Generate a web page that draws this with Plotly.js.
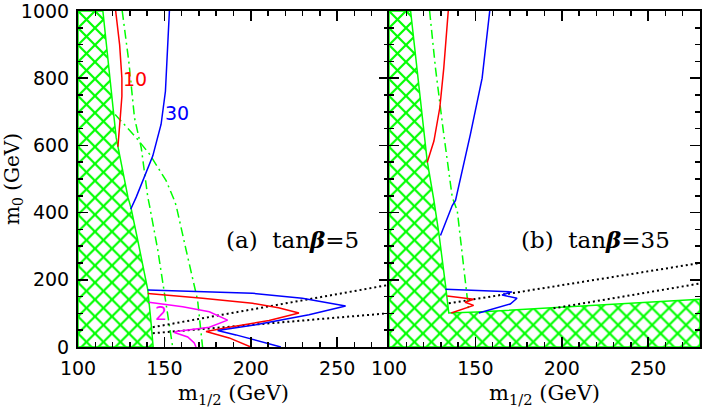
<!DOCTYPE html>
<html><head><meta charset="utf-8">
<script src="https://cdn.plot.ly/plotly-3.0.1.min.js"></script>
<style>html,body{margin:0;padding:0;background:#fff}</style>
</head><body><div id="chart" style="width:703px;height:415px"></div>
<script>
// ---------- Panel (a): tan beta = 5 ----------
const a_excl_x = [100, 100, 114.4, 122.1, 128.9, 130.8, 134.6, 138.5, 140.4, 142.3, 143.5, 100];
const a_excl_y = [0, 1000, 1000, 623, 446, 411, 317, 219, 170, 71, 0, 0];
const a_dd1_x = [125.6, 129.4, 132.7, 136.6, 140.4, 141.4, 146.2, 151.9, 154.8];
const a_dd1_y = [1000, 850, 682, 593, 446, 421, 288, 100, 0];
const a_dd2_x = [121.5, 133.7, 141.4, 151.0, 155.8, 156.8, 162.6, 169.2, 172.1];
const a_dd2_y = [692, 623, 574, 495, 436, 421, 288, 140, 0];
const a_red_hi_x = [121.8, 124.1, 125.4, 125.4, 124.6, 123.1];
const a_red_hi_y = [1000, 899, 800, 746, 692, 596];
const a_red_lo_x = [140.4, 172.1, 201.0, 216.0, 227.9, 210.6, 187.5, 174.1, 187.5, 200.0];
const a_red_lo_y = [159, 145, 130, 117, 101, 79, 59, 46, 27, 0];
const a_blue_hi_x = [152.9, 151.6, 150.6, 148.1, 143.3, 133.7, 130.5];
const a_blue_hi_y = [1000, 880, 761, 663, 569, 446, 410];
const a_blue_lo_x = [140.4, 201.0, 229.8, 254.9, 233.7, 202.9, 180.8, 191.4, 217.4];
const a_blue_lo_y = [170, 160, 145, 122, 96, 66, 49, 36, 0];
const a_mag_x = [141.0, 160.6, 176.0, 186.6, 176.0, 156.8, 155.8, 163.5, 167.3, 168.3];
const a_mag_y = [133, 120, 105, 80, 59, 46, 43, 30, 12, 0];
const a_dot1_x = [143.3, 280];
const a_dot1_y = [59, 185];
const a_dot2_x = [143.3, 280];
const a_dot2_y = [41, 100.6];

// ---------- Panel (b): tan beta = 35 ----------
const b_excl_x = [100, 100, 112.5, 122.1, 126.0, 128.9, 132.7, 134.6, 151.0, 280, 280, 100];
const b_excl_y = [0, 1000, 1000, 554, 436, 337, 184, 101, 104, 142, 0, 0];
const b_dd_x = [123.5, 126.9, 131.7, 136.6, 139.5, 145.3, 146.2];
const b_dd_y = [1000, 830, 633, 446, 406, 140, 105];
const b_red_hi_x = [134.3, 131.7, 129.4, 126.0, 122.1];
const b_red_hi_y = [1000, 830, 712, 613, 549];
const b_red_lo_x = [133.7, 149.0, 144.0, 149.0, 136.0];
const b_red_lo_y = [152, 142, 133, 124, 101];
const b_blue_hi_x = [158.3, 153.9, 147.1, 138.5, 136.6, 129.8];
const b_blue_hi_y = [1000, 800, 633, 436, 421, 332];
const b_blue_lo_x = [132.7, 171.2, 165.4, 174.1, 170.2, 152.0];
const b_blue_lo_y = [172, 164, 155, 145, 128, 101];
const b_dot1_x = [134.6, 280];
const b_dot1_y = [130, 250];
const b_dot2_x = [195.2, 280];
const b_dot2_y = [115, 189];

// ---------- Axes ticks / labels ----------
const xTickVals = [100, 150, 200, 250];
const yTickVals = [0, 200, 400, 600, 800, 1000];
const xTitle = 'm<sub>1/2</sub> (GeV)';
const yTitle = 'm<sub>0</sub> (GeV)';
const curveLabels = ['10', '30', '2'];
const panelLabels = ['(a)\u00a0 tan<b><i>β</i></b>=5', '(b)\u00a0 tan<b><i>β</i></b>=35'];

const GREEN = '#00ff00', RED = '#ff0000', BLUE = '#0000ff', MAG = '#ff00ff';
const DD = '9px,4px,2px,4px';

function ln(x, y, color, xa, ya, dash) {
  return {x: x, y: y, type: 'scatter', mode: 'lines', xaxis: xa, yaxis: ya,
    line: {color: color, width: dash === 'dotb' ? 2 : 1.5, dash: dash === 'dotb' ? '2px,3px' : (dash || 'solid')},
    hoverinfo: 'skip', showlegend: false};
}
function hatch(x, y, xa, ya) {
  return {x: x, y: y, type: 'scatter', mode: 'lines', fill: 'toself', xaxis: xa, yaxis: ya,
    fillcolor: 'rgba(0,0,0,0)',
    fillpattern: {shape: 'x', fgcolor: GREEN, bgcolor: 'white', size: 12, solidity: 0.33},
    line: {color: GREEN, width: 1.5}, hoverinfo: 'skip', showlegend: false};
}

const traces = [
  hatch(a_excl_x, a_excl_y, 'x', 'y'),
  ln(a_dd1_x, a_dd1_y, GREEN, 'x', 'y', DD),
  ln(a_dd2_x, a_dd2_y, GREEN, 'x', 'y', DD),
  ln(a_dot1_x, a_dot1_y, 'black', 'x', 'y', 'dotb'),
  ln(a_dot2_x, a_dot2_y, 'black', 'x', 'y', 'dotb'),
  ln(a_red_hi_x, a_red_hi_y, RED, 'x', 'y'),
  ln(a_red_lo_x, a_red_lo_y, RED, 'x', 'y'),
  ln(a_blue_hi_x, a_blue_hi_y, BLUE, 'x', 'y'),
  ln(a_blue_lo_x, a_blue_lo_y, BLUE, 'x', 'y'),
  ln(a_mag_x, a_mag_y, MAG, 'x', 'y'),
  hatch(b_excl_x, b_excl_y, 'x2', 'y2'),
  ln(b_dd_x, b_dd_y, GREEN, 'x2', 'y2', DD),
  ln(b_dot1_x, b_dot1_y, 'black', 'x2', 'y2', 'dotb'),
  ln(b_dot2_x, b_dot2_y, 'black', 'x2', 'y2', 'dotb'),
  ln(b_red_hi_x, b_red_hi_y, RED, 'x2', 'y2'),
  ln(b_red_lo_x, b_red_lo_y, RED, 'x2', 'y2'),
  ln(b_blue_hi_x, b_blue_hi_y, BLUE, 'x2', 'y2'),
  ln(b_blue_lo_x, b_blue_lo_y, BLUE, 'x2', 'y2')
];

const tickFont = {family: 'DejaVu Sans', size: 19, color: 'black'};
const titleFont = {family: 'DejaVu Serif', size: 21, color: 'black'};
function xax(domain, anchor) {
  return {domain: domain, anchor: anchor, range: [100, 280], tickvals: xTickVals,
    ticks: 'inside', ticklen: 10, tickwidth: 1.5, tickcolor: 'black',
    showline: true, linecolor: 'black', linewidth: 2, mirror: 'ticks',
    showgrid: false, zeroline: false, tickfont: tickFont, ticklabelstandoff: 3,
    ticklabeloverflow: 'allow',
    minor: {dtick: 10, tick0: 100, ticks: 'inside', ticklen: 5, tickwidth: 1.5, tickcolor: 'black', showgrid: false},
    title: {text: xTitle, font: titleFont, standoff: 8}};
}
function yax(domain, anchor, labels) {
  return {domain: domain, anchor: anchor, range: [0, 1000], tickvals: yTickVals,
    ticks: 'inside', ticklen: 10, tickwidth: 1.5, tickcolor: 'black',
    showline: true, linecolor: 'black', linewidth: 2, mirror: 'ticks',
    showgrid: false, zeroline: false, tickfont: tickFont, showticklabels: labels, ticklabelstandoff: 3,
    ticklabeloverflow: 'allow',
    minor: {dtick: 50, tick0: 0, ticks: 'inside', ticklen: 5, tickwidth: 1.5, tickcolor: 'black', showgrid: false},
    title: labels ? {text: yTitle, font: {family: 'DejaVu Serif', size: 20, color: 'black'}, standoff: 6} : {text: ''}};
}

const annFont = {family: 'DejaVu Sans', size: 19};
const layout = {
  width: 703, height: 415,
  margin: {l: 78, r: 3, t: 11, b: 68},
  paper_bgcolor: 'white', plot_bgcolor: 'white',
  showlegend: false,
  xaxis: xax([0, 0.5], 'y'),
  yaxis: yax([0, 1], 'x', true),
  xaxis2: xax([0.5, 1], 'y2'),
  yaxis2: yax([0, 1], 'x2', false),
  annotations: [
    {x: 133, y: 797, xref: 'x', yref: 'y', text: curveLabels[0], showarrow: false, font: Object.assign({color: RED}, annFont)},
    {x: 157.4, y: 697, xref: 'x', yref: 'y', text: curveLabels[1], showarrow: false, font: Object.assign({color: BLUE}, annFont)},
    {x: 148.1, y: 100, xref: 'x', yref: 'y', text: curveLabels[2], showarrow: false, font: Object.assign({color: MAG}, annFont)},
    {x: 224, y: 320, xref: 'x', yref: 'y', text: panelLabels[0], showarrow: false, font: {family: 'DejaVu Serif', size: 23, color: 'black'}},
    {x: 219.3, y: 320, xref: 'x2', yref: 'y2', text: panelLabels[1], showarrow: false, font: {family: 'DejaVu Serif', size: 23, color: 'black'}}
  ]
};

Plotly.newPlot('chart', traces, layout, {displayModeBar: false, staticPlot: true});
</script></body></html>
